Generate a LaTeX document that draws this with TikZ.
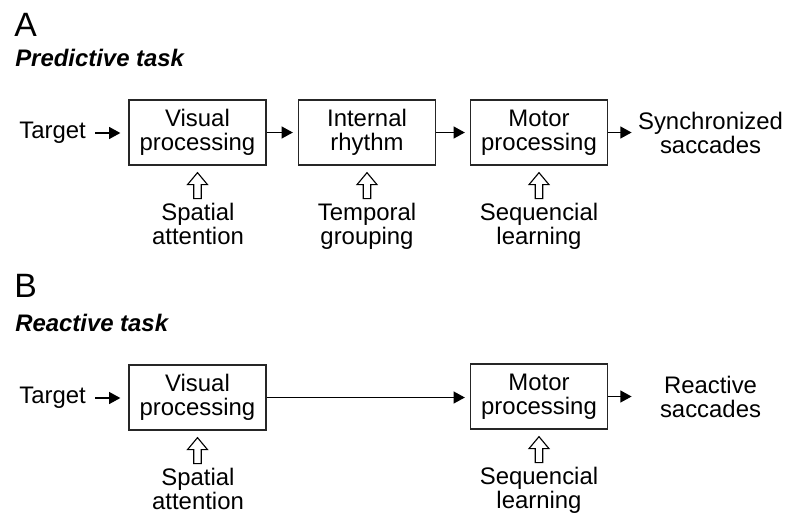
\documentclass[tikz,border=0pt]{standalone}
\usepackage{fontspec}
\setmainfont{Liberation Sans}
\usetikzlibrary{arrows.meta, positioning, calc}

\begin{document}
\begin{tikzpicture}[
  x=0.025cm, y=-0.025cm,
  every node/.style={font=\fontsize{17}{17}\selectfont, inner sep=0pt},
  box/.style={rectangle, draw=black!85, line width=0.9pt, align=center,
              minimum width=3.425cm, minimum height=1.625cm},
  lbl/.style={align=center, anchor=north},
  outtxt/.style={align=center, text width=3.65cm},
  panel/.style={font=\fontsize{24}{24}\selectfont, anchor=base west},
  task/.style={font=\fontsize{17}{17}\selectfont\bfseries\itshape, anchor=base west},
  arr/.style={-{Triangle[length=8pt, width=8.5pt]}, line width=1pt},
  uparrow/.pic={\draw[line width=0.8pt, fill=white] (0,0) -- (10,12) -- (3.8,12)
                -- (3.8,26) -- (-3.8,26) -- (-3.8,12) -- (-10,12) -- cycle;}
]
\useasboundingbox (0,0) rectangle (786,514);

% Panel A
\node[panel] (labA) at (14,36) {A};
\node[task] (taskA) at (15,66) {Predictive task};

\node[anchor=east] (tgtA) at (86,133) {Target};
\node[box] (visA) at (197.5,132.5) {Visual\\processing};
\node[box] (rhyA) at (367,132.5) {Internal\\rhythm};
\node[box] (motA) at (539,132.5) {Motor\\processing};
\node[outtxt] (synA) at (710.5,132.5) {Synchronized\\saccades};

\node[lbl] (spaA) at (198,202.5) {Spatial\\attention};
\node[lbl] (tmpA) at (367,202.5) {Temporal\\grouping};
\node[lbl] (seqA) at (539,202.5) {Sequencial\\learning};

\draw[arr, shorten <=0.225cm, shorten >=0.2cm] (tgtA.east) -- (tgtA.east -| visA.west);
\draw[arr, shorten >=0.125cm] (visA) -- (rhyA);
\draw[arr, shorten >=0.125cm] (rhyA) -- (motA);
\draw[arr, shorten >=0.14cm] (motA) -- (synA);

\pic at ($(visA.south)+(0,7)$) {uparrow};
\pic at ($(rhyA.south)+(0,7)$) {uparrow};
\pic at ($(motA.south)+(0,7)$) {uparrow};

% Panel B
\node[panel] (labB) at (14,297) {B};
\node[task] (taskB) at (15,331) {Reactive task};

\node[anchor=east] (tgtB) at (86,398) {Target};
\node[box] (visB) at (197.5,397.5) {Visual\\processing};
\node[box] (motB) at (539,396.5) {Motor\\processing};
\node[outtxt] (reaB) at (710.5,396.5) {Reactive\\saccades};

\node[lbl] (spaB) at (198,468) {Spatial\\attention};
\node[lbl] (seqB) at (539,467) {Sequencial\\learning};

\draw[arr, shorten <=0.225cm, shorten >=0.2cm] (tgtB.east) -- (tgtB.east -| visB.west);
\draw[arr, shorten >=0.125cm] (visB.east) -- (visB.east -| motB.west);
\draw[arr, shorten >=0.14cm] (motB) -- (reaB);

\pic at ($(visB.south)+(0,7)$) {uparrow};
\pic at ($(motB.south)+(0,7)$) {uparrow};

\end{tikzpicture}
\end{document}
